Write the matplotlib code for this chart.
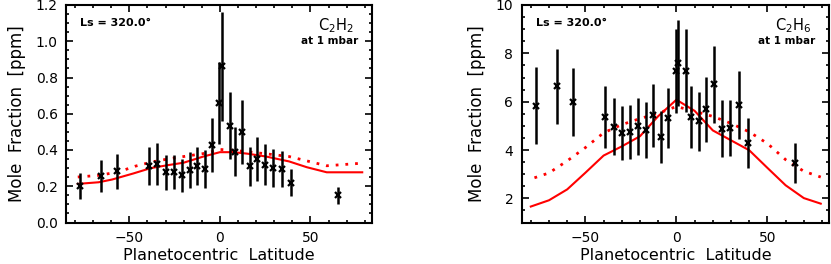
import matplotlib
matplotlib.use("Agg")
import matplotlib.pyplot as plt
from matplotlib.ticker import MultipleLocator, FormatStrFormatter

plt.rcParams['font.family'] = ['DejaVu Sans']

# ---- data ----
lat_obs = [-77.3, -65.8, -56.9, -39.1, -34.5, -30.0, -25.5, -20.9, -16.7, -12.7,
           -8.4, -4.4, -0.4, 0.9, 5.5, 8.2, 12.2, 16.4, 20.5, 24.9, 29.4, 34.2,
           39.1, 65.4]

c2h2_val = [0.200, 0.255, 0.282, 0.310, 0.322, 0.277, 0.277, 0.260, 0.292, 0.310,
            0.297, 0.425, 0.660, 0.861, 0.534, 0.390, 0.501, 0.310, 0.350, 0.319,
            0.301, 0.294, 0.219, 0.149]
c2h2_err = [0.071, 0.088, 0.098, 0.105, 0.116, 0.096, 0.094, 0.090, 0.099, 0.104,
            0.104, 0.149, 0.228, 0.302, 0.185, 0.135, 0.176, 0.107, 0.119, 0.112,
            0.104, 0.099, 0.074, 0.049]

c2h6_val = [5.84, 6.63, 5.98, 5.36, 4.97, 4.71, 4.75, 4.98, 4.81, 5.43,
            4.54, 5.31, 7.27, 7.59, 7.28, 5.36, 5.18, 5.69, 6.72, 4.88,
            4.91, 5.87, 4.29, 3.47]
c2h6_err = [1.58, 1.57, 1.42, 1.29, 1.18, 1.13, 1.13, 1.18, 1.16, 1.30,
            1.09, 1.24, 1.72, 1.77, 1.72, 1.29, 1.22, 1.35, 1.60, 1.17,
            1.17, 1.40, 1.02, 0.82]

# model curves
c2h2_lat_solid = [-78.5, -67, -59.6, -48, -38.2, -29, -20, -9.1, 0, 7.3, 15, 25.5, 38.2, 48, 59, 78.6]
c2h2_solid = [0.213, 0.222, 0.237, 0.270, 0.300, 0.316, 0.330, 0.364, 0.388, 0.388,
              0.380, 0.364, 0.337, 0.305, 0.277, 0.277]
c2h2_lat_dot = [-78.5, -67, -56, -47, -38, -29, -20, -7.3, 0, 8, 25.5, 38.2, 50, 59, 79.5]
c2h2_dot = [0.251, 0.260, 0.279, 0.310, 0.333, 0.350, 0.364, 0.383, 0.403, 0.398,
            0.379, 0.364, 0.335, 0.313, 0.328]

c2h6_lat_solid = [-80, -70, -60, -50, -40, -30, -20, -10, 0, 10, 20, 30, 40, 50, 60, 70, 79.3]
c2h6_solid = [1.66, 1.92, 2.37, 3.06, 3.77, 4.15, 4.57, 5.40, 6.08, 5.62, 4.81, 4.40,
              3.99, 3.26, 2.54, 2.01, 1.78]
c2h6_lat_dot = [-78, -70, -60, -50, -40, -30, -20, -10, 0, 10, 20, 30, 40, 50, 60, 70, 79.3]
c2h6_dot = [2.85, 3.05, 3.55, 4.10, 4.71, 5.05, 5.30, 5.52, 5.80, 5.60, 5.39, 5.10,
            4.75, 4.27, 3.60, 3.12, 2.88]

fig = plt.figure(figsize=(8.31, 2.64), dpi=100)
ax1 = fig.add_axes([66/831, 1-222.5/264, 306/831, 217.5/264])
ax2 = fig.add_axes([521.7/831, 1-222.5/264, 307.6/831, 217.5/264])

def style(ax, ylim, ymaj, ymin):
    ax.set_xlim(-85, 84)
    ax.set_ylim(*ylim)
    ax.xaxis.set_major_locator(MultipleLocator(50))
    ax.xaxis.set_minor_locator(MultipleLocator(10))
    ax.yaxis.set_major_locator(MultipleLocator(ymaj))
    ax.yaxis.set_minor_locator(MultipleLocator(ymin))
    ax.tick_params(which='both', direction='in', top=True, right=True, width=1.2,
                   labelsize=10)
    ax.tick_params(which='major', length=5, pad=6)
    ax.tick_params(which='minor', length=2.5)
    for s in ax.spines.values():
        s.set_linewidth(1.5)
    ax.set_xlabel('Planetocentric  Latitude', fontsize=11.5, labelpad=2)
    ax.set_ylabel('Mole  Fraction  [ppm]', fontsize=12, labelpad=7)
    ax.text(0.046, 0.917, 'Ls = 320.0°', transform=ax.transAxes, fontsize=8,
            fontweight='bold', va='center', ha='left')

# left panel
ax1.plot(c2h2_lat_solid, c2h2_solid, color='#ff0000', lw=1.5)
ax1.plot(c2h2_lat_dot, c2h2_dot, color='#ff0000', lw=2, linestyle=(0, (1, 2.5)))
ax1.errorbar(lat_obs, c2h2_val, yerr=c2h2_err, fmt='x', color='black', ecolor='black',
             elinewidth=1.8, markersize=5, mew=1.6, capsize=0)
style(ax1, (0, 1.2), 0.2, 0.05)
ax1.yaxis.set_major_formatter(FormatStrFormatter('%.1f'))
ax1.text(0.882, 0.905, 'C$_2$H$_2$', transform=ax1.transAxes, fontsize=10.5,
         ha='center', va='center')
ax1.text(0.954, 0.836, 'at 1 mbar', transform=ax1.transAxes, fontsize=7.5,
         fontweight='bold', ha='right', va='center')

# right panel
ax2.plot(c2h6_lat_solid, c2h6_solid, color='#ff0000', lw=1.5)
ax2.plot(c2h6_lat_dot, c2h6_dot, color='#ff0000', lw=2, linestyle=(0, (1, 2.5)))
ax2.errorbar(lat_obs, c2h6_val, yerr=c2h6_err, fmt='x', color='black', ecolor='black',
             elinewidth=1.8, markersize=5, mew=1.6, capsize=0)
style(ax2, (1, 10), 2, 0.5)
ax2.text(0.882, 0.905, 'C$_2$H$_6$', transform=ax2.transAxes, fontsize=10.5,
         ha='center', va='center')
ax2.text(0.954, 0.836, 'at 1 mbar', transform=ax2.transAxes, fontsize=7.5,
         fontweight='bold', ha='right', va='center')

fig.savefig('out.png', dpi=100)
